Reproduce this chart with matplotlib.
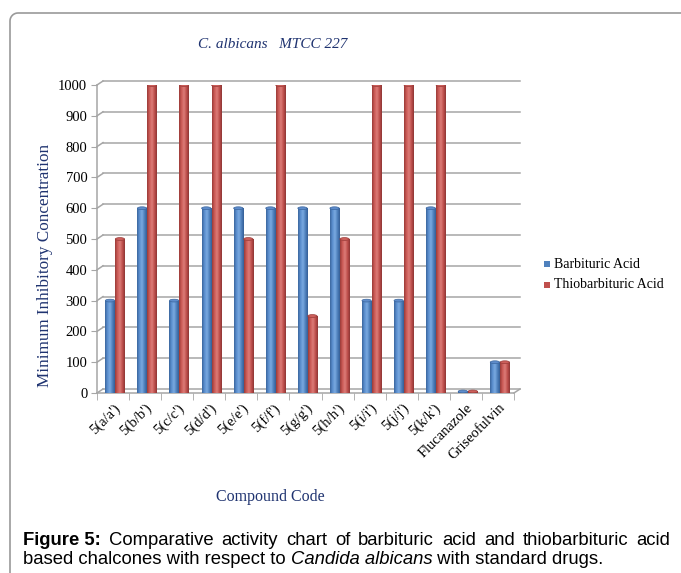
import numpy as np
import matplotlib
matplotlib.use('Agg')
import matplotlib.pyplot as plt
from matplotlib.colors import LinearSegmentedColormap
from matplotlib.lines import Line2D
from matplotlib.patches import Ellipse, Rectangle
from matplotlib.transforms import offset_copy

compounds = ["5(a/a')", "5(b/b')", "5(c/c')", "5(d/d')", "5(e/e')", "5(f/f')",
             "5(g/g')", "5(h/h')", "5(i/i')", "5(j/j')", "5(k/k')",
             "Flucanazole", "Griseofulvin"]
barbituric = [300, 600, 300, 600, 600, 600, 600, 600, 300, 300, 600, 5, 100]
thiobarbituric = [500, 1000, 1000, 1000, 500, 1000, 250, 500, 1000, 1000, 1000, 5, 100]
y_ticks = list(range(0, 1001, 100))

W, H = 681, 573
NAVY = '#1f3370'
GRID = '#a6a6a6'
SERIF = 'Liberation Serif'

fig = plt.figure(figsize=(W / 100, H / 100), dpi=100)
ax = fig.add_axes([97 / W, (H - 393) / H, (514 - 97) / W, (393 - 85) / H])
ax.set_xlim(-0.5, len(compounds) - 0.5)
ax.set_ylim(0, 1000)
for s in ax.spines.values():
    s.set_visible(False)

# back wall of the pseudo-3D chart: gridlines shifted up and right
DX, DY = 6, 4
back = offset_copy(ax.transData, fig=fig, x=DX, y=DY, units='dots')
for t in y_ticks:
    ax.plot([-0.5, len(compounds) - 0.5], [t, t], color=GRID, lw=1.1,
            transform=back, zorder=0, clip_on=False)
    p0 = ax.transData.transform((-0.5, t))
    ax.add_line(Line2D([p0[0], p0[0] + DX], [p0[1], p0[1] + DY], color=GRID,
                       lw=1.1, transform=None, zorder=0, clip_on=False))
# front floor edge, right floor edge and front axis line
x_end = len(compounds) - 0.5
ax.plot([-0.5, x_end], [0, 0], color=GRID, lw=1.1, zorder=0, clip_on=False)
pe = ax.transData.transform((x_end, 0))
ax.add_line(Line2D([pe[0], pe[0] + DX], [pe[1], pe[1] + DY], color=GRID,
                   lw=1.1, transform=None, zorder=0, clip_on=False))
ax.plot([-0.5, -0.5], [0, 1000], color=GRID, lw=1.1, zorder=0, clip_on=False)

blue_cmap = LinearSegmentedColormap.from_list(
    'b', ['#3b669e', '#5b8fcf', '#7aa9e0', '#4f81bd', '#355e96'])
red_cmap = LinearSegmentedColormap.from_list(
    'r', ['#9a3b38', '#cc5b57', '#dc7c78', '#c0504d', '#8e3634'])
grad = np.linspace(0, 1, 64).reshape(1, -1)

bw = 0.29
shift = 0.06  # bars sit halfway into the depth of the floor
x = np.arange(len(compounds))


def cylinder(xc, val, cmap, cap_color):
    left = xc - bw / 2
    rect = Rectangle((left, 0), bw, val, facecolor='none', edgecolor='none')
    ax.add_patch(rect)
    im = ax.imshow(grad, cmap=cmap, aspect='auto', zorder=3,
                   extent=(left, left + bw, 0, max(val, 1)))
    im.set_clip_path(rect)
    cap_h = 9
    ax.add_patch(Ellipse((xc, val), bw, cap_h, facecolor=cap_color,
                         edgecolor=cmap(0.0), lw=0.5, zorder=4))
    ax.add_patch(Ellipse((xc, 0), bw, cap_h, facecolor=cmap(0.5),
                         edgecolor='none', zorder=2.9))


for i in range(len(compounds)):
    cylinder(x[i] + shift - bw / 2 - 0.01, barbituric[i], blue_cmap, '#5e8ccb')
    cylinder(x[i] + shift + bw / 2 + 0.01, thiobarbituric[i], red_cmap, '#cc5f5b')

ax.set_xlim(-0.5, len(compounds) - 0.5)
ax.set_ylim(0, 1000)

ax.set_yticks(y_ticks)
ax.set_yticklabels([str(t) for t in y_ticks], fontfamily=SERIF, fontsize=10.5)
ax.tick_params(axis='y', length=4, color=GRID, pad=3)
ax.set_xticks(x)
ax.set_xticklabels(compounds, rotation=45, ha='right', rotation_mode='anchor',
                   fontfamily=SERIF, fontsize=10.5)
ax.tick_params(axis='x', length=0, pad=6)
ax.set_xticks(np.arange(-0.5, len(compounds)), minor=True)
ax.tick_params(axis='x', which='minor', length=5, color=GRID, direction='out')

fig.text(45 / W, 1 - 265 / H, 'Minimum Inhibitory Concentration',
         fontfamily=SERIF, fontsize=12.3, color=NAVY, rotation=90,
         ha='center', va='center')

fig.text(273 / W, 1 - 44 / H, 'C. albicans   MTCC 227', fontfamily=SERIF,
         fontstyle='italic', fontsize=11, color=NAVY, ha='center', va='center')
fig.text(270 / W, 1 - 497 / H, 'Compound Code', fontfamily=SERIF,
         fontsize=11.5, color=NAVY, ha='center', va='center')

# legend entries
for k, (lab, col) in enumerate([('Barbituric Acid', '#4f81bd'),
                                 ('Thiobarbituric Acid', '#c0504d')]):
    yy = 1 - (264 + 21 * k) / H
    fig.patches.append(Rectangle((544 / W, yy - 3 / H), 6 / W, 6 / H,
                                 facecolor=col, edgecolor='none',
                                 transform=fig.transFigure, figure=fig))
    fig.text(554 / W, yy, lab, fontfamily=SERIF, fontsize=10,
             ha='left', va='center')

# frame: left and top edges with a rounded corner
r = 8
ang = np.linspace(np.pi, np.pi / 2, 12)
px = np.concatenate([[10], 10 + r + r * np.cos(ang), [W]])
py = np.concatenate([[H], 13 + r - r * np.sin(ang), [13]])
fig.add_artist(Line2D(px / W, 1 - py / H, color='#9a9a9a', lw=1.2,
                      transform=fig.transFigure))

# caption, laid out run by run
fig.canvas.draw()
renderer = fig.canvas.get_renderer()
CAP = 13.3


def run(x0, y0, s, **kw):
    t = fig.text(x0 / W, 1 - y0 / H, s, fontfamily='Liberation Sans',
                 fontsize=CAP, ha='left', va='baseline', **kw)
    bb = t.get_window_extent(renderer)
    return x0 + bb.width


line1 = ['Comparative', 'activity', 'chart', 'of', 'barbituric', 'acid',
         'and', 'thiobarbituric', 'acid']
x1 = run(23, 545, 'Figure 5:', fontweight='bold')
widths = []
for w in line1:
    t = fig.text(0, 0, w, fontfamily='Liberation Sans', fontsize=CAP)
    widths.append(t.get_window_extent(renderer).width)
    t.remove()
gap = (670 - x1 - sum(widths)) / len(line1)
cx = x1 + gap
for w, wd in zip(line1, widths):
    run(cx, 545, w)
    cx += wd + gap

cx = run(23, 564, 'based chalcones with respect to ')
cx = run(cx, 564, 'Candida albicans', fontstyle='italic')
run(cx, 564, ' with standard drugs.')

fig.savefig('out.png', dpi=100)
